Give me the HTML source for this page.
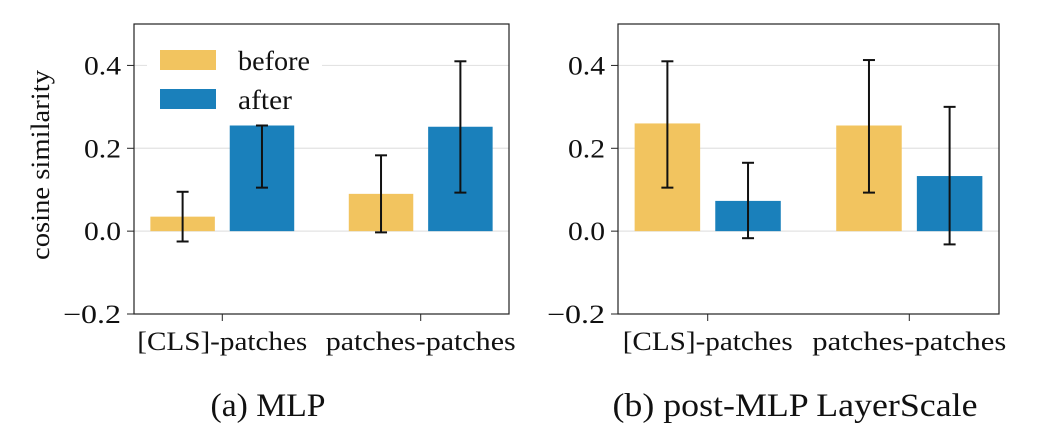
<!DOCTYPE html>
<html><head><meta charset="utf-8"><style>
html,body{margin:0;padding:0;background:#fff;}
svg{display:block;}
svg text{font-family:"Liberation Serif","DejaVu Serif",serif;}
</style></head><body>
<svg id="chart" width="1047" height="437" viewBox="0 0 1047 437" xmlns="http://www.w3.org/2000/svg"></svg>
<script>
const categories = ["[CLS]-patches", "patches-patches"];
const seriesNames = ["before", "after"];
const yTicks = [-0.2, 0.0, 0.2, 0.4];
const yTickLabels = ["\u22120.2", "0.0", "0.2", "0.4"];
// panel (a) MLP
const mlpBefore = [0.035, 0.090];
const mlpBeforeLo = [-0.025, -0.003];
const mlpBeforeHi = [0.095, 0.183];
const mlpAfter = [0.255, 0.252];
const mlpAfterLo = [0.105, 0.093];
const mlpAfterHi = [0.255, 0.410];
// panel (b) post-MLP LayerScale
const lsBefore = [0.260, 0.255];
const lsBeforeLo = [0.105, 0.093];
const lsBeforeHi = [0.410, 0.413];
const lsAfter = [0.073, 0.133];
const lsAfterLo = [-0.017, -0.032];
const lsAfterHi = [0.165, 0.300];

const NS = "http://www.w3.org/2000/svg";
const svg = document.getElementById("chart");
const colors = ["#f2c45f", "#1a80bb"];
const FF = "'Liberation Serif', 'DejaVu Serif', serif";
function mk(tag, attrs, parent) {
  const e = document.createElementNS(NS, tag);
  for (const k in attrs) e.setAttribute(k, attrs[k]);
  if (tag === "text") { e.setAttribute("font-family", FF); if (attrs.textLength) e.setAttribute("lengthAdjust", "spacingAndGlyphs"); }
  (parent || svg).appendChild(e);
  return e;
}
function panel(key, x0, x1, caption, capX, capW, xLabW, data, showLegend, showYLabel) {
  const top = 24, bot = 314, yMin = -0.2, yMax = 0.5;
  const xMin = -0.445, xMax = 1.445;
  const y = v => bot - (v - yMin) / (yMax - yMin) * (bot - top);
  const x = v => x0 + (v - xMin) / (xMax - xMin) * (x1 - x0);
  const pxPerUnit = (x1 - x0) / (xMax - xMin);
  const g = mk("g", {});
  
  
  yTicks.forEach((t, i) => {
    if (t > yMin) {
      const gl = mk("line", {x1: x0, x2: x1, y1: y(t), y2: y(t), stroke: "#e3e3e3", "stroke-width": 1.2}, g);
      
      
    }
    const tk = mk("line", {x1: x0 - 7, x2: x0, y1: y(t), y2: y(t), stroke: "#222", "stroke-width": 1}, g);
    
    
    const tl = mk("text", {x: x0 - 13, y: y(t) + 9, "text-anchor": "end", "font-size": 26, fill: "#111",
      textLength: yTickLabels[i].length === 4 ? 58 : 37}, g);
    tl.textContent = yTickLabels[i];
    
    
  });
  const bw = 0.325, off = 0.2;
  categories.forEach((c, ci) => {
    data.forEach((s, si) => {
      const cx = ci + (si === 0 ? -off : off);
      const v = s.vals[ci];
      const r = mk("rect", {x: x(cx) - bw * pxPerUnit / 2, width: bw * pxPerUnit,
        y: Math.min(y(v), y(0)), height: Math.abs(y(v) - y(0)), fill: colors[si]}, g);
      
      
      const eg = mk("g", {stroke: "#111", "stroke-width": 2}, g);
      
      
      const lo = y(s.lo[ci]), hi = y(s.hi[ci]), ex = x(cx);
      mk("line", {x1: ex, x2: ex, y1: lo, y2: hi}, eg);
      mk("line", {x1: ex - 6, x2: ex + 6, y1: lo, y2: lo}, eg);
      mk("line", {x1: ex - 6, x2: ex + 6, y1: hi, y2: hi}, eg);
    });
    const xt = mk("line", {x1: x(ci), x2: x(ci), y1: bot, y2: bot + 7, stroke: "#222", "stroke-width": 1}, g);
    
    
    const xl = mk("text", {x: x(ci), y: 350, "text-anchor": "middle", "font-size": 26, fill: "#111", textLength: xLabW[ci]}, g);
    xl.textContent = c;
    
    
  });
  const fr = mk("rect", {x: x0, y: top, width: x1 - x0, height: bot - top, fill: "none", stroke: "#222", "stroke-width": 1.2}, g);
  
  
  if (showLegend) {
    const lg = mk("g", {}, g);
    
    
    mk("rect", {x: 147, y: 40, width: 175, height: 82, fill: "#fff"}, lg);
    const lw = [72, 54];
    seriesNames.forEach((n, i) => {
      const sw = mk("rect", {x: 160, y: 50 + i * 39, width: 56, height: 20, fill: colors[i]}, lg);
      
      
      const t = mk("text", {x: 238, y: 70 + i * 39, "font-size": 27, fill: "#111", textLength: lw[i]}, lg);
      t.textContent = n;
      
      
    });
  }
  if (showYLabel) {
    const yl = mk("text", {x: 0, y: 0, transform: "translate(49,165) rotate(-90)", "text-anchor": "middle", "font-size": 26, fill: "#111", textLength: 190}, g);
    yl.textContent = "cosine similarity";
    
    
  }
  const cap = mk("text", {x: capX, y: 416, "text-anchor": "middle", "font-size": 33, fill: "#111", textLength: capW}, g);
  cap.textContent = caption;
  
  
}
panel("mlp", 134, 509, "(a) MLP", 268, 115, [170, 190], [
  {vals: mlpBefore, lo: mlpBeforeLo, hi: mlpBeforeHi},
  {vals: mlpAfter, lo: mlpAfterLo, hi: mlpAfterHi}], true, true);
panel("layerscale", 618, 999, "(b) post-MLP LayerScale", 795, 365, [170, 194], [
  {vals: lsBefore, lo: lsBeforeLo, hi: lsBeforeHi},
  {vals: lsAfter, lo: lsAfterLo, hi: lsAfterHi}], false, false);
</script>
</body></html>
